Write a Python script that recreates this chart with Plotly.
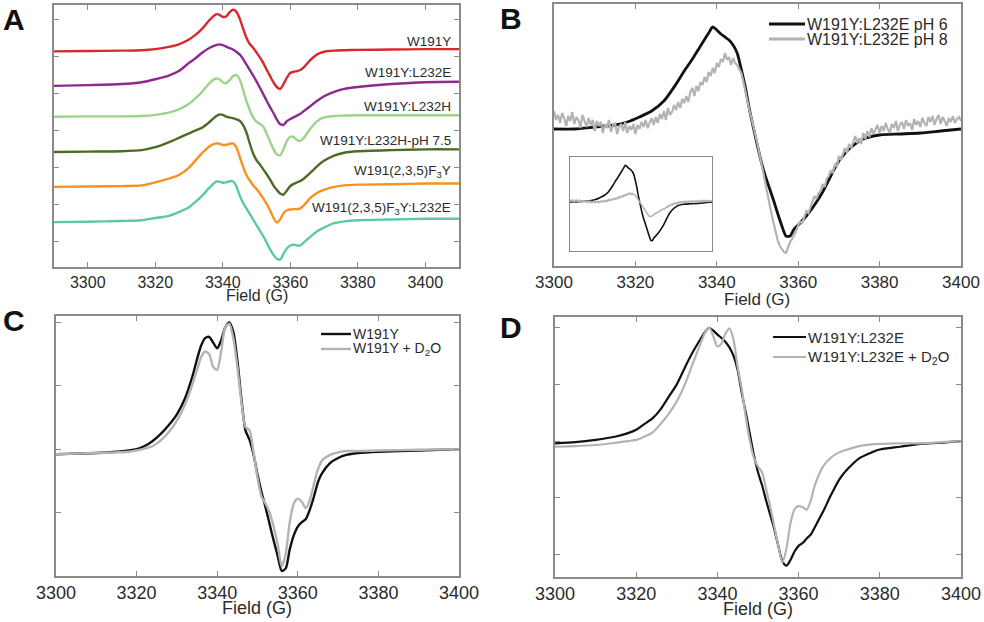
import plotly.graph_objects as go

# ---------------- Panel A data ----------------
field_a = [3290, 3300, 3310, 3316, 3320, 3324, 3327, 3330, 3332, 3334, 3336, 3338, 3339, 3340,
           3341, 3342, 3343, 3344, 3345, 3346, 3347, 3348, 3349, 3350, 3351, 3352, 3353, 3354,
           3355, 3356, 3357, 3358, 3359, 3360, 3361, 3362, 3363, 3364, 3366, 3368, 3370, 3373,
           3376, 3380, 3390, 3400, 3410]
a_w191y = [5.13, 5.14, 5.15, 5.16, 5.19, 5.25, 5.32, 5.45, 5.58, 5.75, 5.97, 6.13, 6.12, 6.06,
           6.07, 6.18, 6.25, 6.2, 6.02, 5.75, 5.5, 5.33, 5.23, 5.1, 4.97, 4.82, 4.64, 4.47,
           4.3, 4.17, 4.12, 4.25, 4.42, 4.55, 4.58, 4.6, 4.63, 4.7, 4.9, 5.05, 5.12, 5.15,
           5.16, 5.17, 5.18, 5.19, 5.19]
a_l232e = [4.2, 4.22, 4.25, 4.3, 4.38, 4.48, 4.6, 4.82, 4.95, 5.1, 5.22, 5.3, 5.32, 5.3,
           5.26, 5.22, 5.18, 5.12, 5.05, 4.93, 4.78, 4.63, 4.48, 4.32, 4.15, 3.98, 3.8, 3.63,
           3.47, 3.3, 3.17, 3.15, 3.25, 3.31, 3.35, 3.4, 3.45, 3.52, 3.66, 3.8, 3.92, 4.04,
           4.12, 4.17, 4.25, 4.3, 4.31]
a_l232h = [3.37, 3.38, 3.38, 3.39, 3.42, 3.48, 3.57, 3.72, 3.87, 4.05, 4.27, 4.4, 4.38, 4.3,
           4.27, 4.35, 4.46, 4.49, 4.38, 4.1, 3.8, 3.55, 3.35, 3.23, 3.18, 3.1, 2.92, 2.7,
           2.5, 2.36, 2.33, 2.5, 2.72, 2.83, 2.82, 2.74, 2.72, 2.8, 3.05, 3.25, 3.35, 3.39,
           3.4, 3.41, 3.41, 3.41, 3.41]
a_l232h_ph75 = [2.42, 2.43, 2.44, 2.47, 2.55, 2.68, 2.8, 2.92, 3.0, 3.08, 3.22, 3.38, 3.43, 3.42,
                3.37, 3.35, 3.33, 3.3, 3.26, 3.15, 2.95, 2.65, 2.38, 2.2, 2.08, 1.95, 1.82, 1.68,
                1.52, 1.4, 1.3, 1.27, 1.38, 1.5, 1.56, 1.6, 1.64, 1.7, 1.86, 2.04, 2.18, 2.32,
                2.4, 2.44, 2.47, 2.49, 2.49]
a_f3y = [1.48, 1.49, 1.5, 1.52, 1.6, 1.7, 1.8, 2.0, 2.2, 2.4, 2.57, 2.65, 2.64, 2.61,
         2.61, 2.64, 2.65, 2.55, 2.3, 2.03, 1.8, 1.65, 1.52, 1.42, 1.3, 1.17, 1.02, 0.85,
         0.65, 0.52, 0.6, 0.77, 0.85, 0.87, 0.88, 0.88, 0.9, 0.98, 1.18, 1.32, 1.4, 1.48,
         1.52, 1.54, 1.55, 1.57, 1.57]
a_f3y_l232e = [0.53, 0.54, 0.56, 0.58, 0.64, 0.7, 0.8, 0.93, 1.08, 1.25, 1.45, 1.62, 1.62, 1.59,
               1.6, 1.63, 1.63, 1.5, 1.25, 1.05, 0.9, 0.75, 0.6, 0.45, 0.3, 0.15, -0.02, -0.2,
               -0.35, -0.46, -0.48, -0.32, -0.18, -0.1, -0.08, -0.1, -0.1, -0.02, 0.14, 0.28, 0.38, 0.5,
               0.55, 0.58, 0.6, 0.62, 0.62]
a_names = ["W191Y", "W191Y:L232E", "W191Y:L232H", "W191Y:L232H-pH 7.5",
           "W191(2,3,5)F<sub>3</sub>Y", "W191(2,3,5)F<sub>3</sub>Y:L232E"]
a_colors = ["#d7282e", "#8c2a8f", "#9bd48a", "#4d6b25", "#f7921e", "#5cc8a8"]
a_label_y = [5.41, 4.57, 3.65, 2.73, 1.89, 0.89]

# ---------------- Panel B data ----------------
field_b = [3300, 3305, 3310, 3315, 3318, 3321, 3324, 3327, 3330, 3332, 3334, 3336, 3338, 3339,
           3340, 3341, 3342, 3343, 3344, 3345, 3346, 3347, 3348, 3349, 3350, 3351, 3352, 3353,
           3354, 3355, 3356, 3357, 3358, 3359, 3360, 3362, 3364, 3366, 3368, 3370, 3373, 3376,
           3380, 3385, 3390, 3395, 3400]
b_ph6 = [0.0, 0.0, 0.02, 0.04, 0.07, 0.12, 0.18, 0.28, 0.45, 0.58, 0.7, 0.83, 0.96, 1.02,
         0.99, 0.95, 0.92, 0.89, 0.84, 0.76, 0.6, 0.42, 0.2, 0.01, -0.17, -0.34, -0.48, -0.6,
         -0.72, -0.85, -0.97, -1.07, -1.07, -1.0, -0.96, -0.87, -0.76, -0.63, -0.47, -0.32, -0.18, -0.1,
         -0.06, -0.05, -0.04, -0.02, 0.0]
# pH 8 spectrum read every 0.5 G from 3300 to 3400 G (noisy trace)
field_b8 = [3300 + 0.5 * i for i in range(201)]
b_ph8 = [0.18, 0.09, 0.14, 0.06, 0.16, 0.11, 0.03, 0.13, 0.08, 0.17,
         0.05, 0.12, 0.09, 0.01, 0.14, 0.07, 0.02, 0.11, 0.04, 0.09,
         -0.02, 0.08, 0.03, 0.07, -0.04, 0.05, 0.01, 0.09, -0.03, 0.04,
         0.06, -0.05, 0.02, 0.05, -0.02, 0.07, -0.04, 0.03, -0.01, 0.05,
         -0.05, 0.04, 0.0, 0.07, 0.02, 0.09, 0.01, 0.06, 0.11, 0.04,
         0.12, 0.06, 0.15, 0.1, 0.18, 0.09, 0.21, 0.14, 0.17, 0.24,
         0.19, 0.27, 0.21, 0.3, 0.26, 0.33, 0.27, 0.37, 0.41, 0.33,
         0.43, 0.38, 0.47, 0.44, 0.52, 0.47, 0.57, 0.53, 0.61, 0.56,
         0.66, 0.62, 0.7, 0.67, 0.76, 0.69, 0.72, 0.64, 0.71, 0.66,
         0.64, 0.6, 0.56, 0.48, 0.37, 0.28, 0.19, 0.11, 0.03, -0.06,
         -0.15, -0.25, -0.36, -0.45, -0.55, -0.66, -0.76, -0.86, -0.95, -1.04,
         -1.12, -1.17, -1.2, -1.23, -1.24, -1.18, -1.13, -1.1, -1.06, -1.02,
         -0.96, -0.93, -0.94, -0.87, -0.82, -0.84, -0.78, -0.73, -0.67, -0.7,
         -0.64, -0.62, -0.55, -0.58, -0.5, -0.47, -0.42, -0.44, -0.35, -0.38,
         -0.27, -0.31, -0.25, -0.19, -0.24, -0.15, -0.19, -0.12, -0.07, -0.14,
         -0.09, -0.15, -0.04, -0.1, -0.02, -0.08, 0.01, -0.05, -0.01, 0.04,
         -0.04, 0.03, -0.02, 0.06, 0.0, -0.04, 0.05, 0.01, 0.08, -0.02,
         0.04, 0.07, 0.0, 0.09, 0.03, 0.06, -0.01, 0.1, 0.04, 0.08,
         0.02, 0.11, 0.06, 0.03, 0.12, 0.07, 0.13, 0.04, 0.1, 0.14,
         0.05, 0.12, 0.08, 0.03, 0.11, 0.07, 0.13, 0.06, 0.1, 0.12,
         0.08]
ph8_inset_scale = 0.33   # un-normalised pH 8 intensity relative to pH 6 (inset)
b_names = ["W191Y:L232E pH 6", "W191Y:L232E pH 8"]

# ---------------- Panel C data ----------------
field_c = [3300, 3305, 3310, 3315, 3318, 3320, 3322, 3324, 3326, 3328, 3330, 3332, 3334, 3335,
           3336, 3337, 3338, 3339, 3340, 3341, 3342, 3343, 3344, 3345, 3346, 3347, 3348, 3349,
           3350, 3351, 3352, 3353, 3354, 3355, 3356, 3357, 3358, 3359, 3360, 3361, 3362, 3363,
           3364, 3365, 3366, 3368, 3370, 3372, 3375, 3380, 3390, 3400]
c_h2o = [-0.08, -0.07, -0.06, -0.04, -0.02, 0.0, 0.05, 0.13, 0.24, 0.38, 0.55, 0.8, 1.18, 1.42,
         1.63, 1.75, 1.77, 1.68, 1.59, 1.72, 1.92, 2.0, 1.85, 1.4, 0.8, 0.3, 0.15, -0.08,
         -0.4, -0.68, -0.92, -1.18, -1.44, -1.68, -1.92, -1.88, -1.58, -1.36, -1.22, -1.15, -1.1, -0.95,
         -0.75, -0.52, -0.38, -0.22, -0.14, -0.09, -0.06, -0.04, -0.02, 0.0]
c_d2o = [-0.08, -0.07, -0.06, -0.05, -0.04, -0.02, 0.01, 0.05, 0.14, 0.27, 0.45, 0.7, 1.05, 1.25,
         1.45, 1.54, 1.5, 1.3, 1.25, 1.55, 1.92, 1.98, 1.75, 1.3, 0.75, 0.35, 0.3, -0.04,
         -0.45, -0.75, -0.86, -1.0, -1.22, -1.5, -1.85, -1.65, -1.15, -0.86, -0.78, -0.83, -0.93, -0.8,
         -0.55, -0.32, -0.18, -0.09, -0.05, -0.03, -0.03, -0.02, -0.01, 0.0]
c_names = ["W191Y", "W191Y + D<sub>2</sub>O"]

# ---------------- Panel D data ----------------
field_d = [3300, 3305, 3310, 3315, 3318, 3320, 3322, 3324, 3326, 3328, 3330, 3332, 3334, 3336,
           3337, 3338, 3339, 3340, 3341, 3342, 3343, 3344, 3345, 3346, 3347, 3348, 3349, 3350,
           3351, 3352, 3353, 3354, 3355, 3356, 3357, 3358, 3359, 3360, 3361, 3362, 3363, 3364,
           3366, 3368, 3370, 3372, 3375, 3378, 3380, 3385, 3390, 3395, 3400]
d_h2o = [-0.04, -0.02, 0.02, 0.08, 0.14, 0.2, 0.3, 0.4, 0.56, 0.78, 1.0, 1.3, 1.58, 1.82,
         1.93, 2.0, 1.95, 1.88, 1.82, 1.75, 1.65, 1.5, 1.25, 0.85, 0.5, 0.12, -0.25, -0.55,
         -0.78, -1.05, -1.3, -1.55, -1.85, -2.12, -2.2, -2.1, -1.95, -1.85, -1.8, -1.72, -1.65, -1.52,
         -1.25, -0.95, -0.68, -0.5, -0.3, -0.2, -0.15, -0.1, -0.05, -0.03, 0.0]
d_d2o = [-0.1, -0.09, -0.07, -0.03, 0.0, 0.02, 0.08, 0.15, 0.3, 0.48, 0.7, 1.0, 1.38, 1.75,
         1.92, 2.0, 1.85, 1.67, 1.72, 1.9, 1.99, 1.78, 1.3, 0.92, 0.42, 0.0, -0.3, -0.45,
         -0.55, -0.85, -1.15, -1.5, -1.85, -2.15, -1.9, -1.45, -1.2, -1.15, -1.17, -1.21, -1.05, -0.78,
         -0.45, -0.29, -0.2, -0.15, -0.09, -0.06, -0.05, -0.04, -0.04, -0.02, 0.0]
d_names = ["W191Y:L232E", "W191Y:L232E + D<sub>2</sub>O"]

field_ticks = [3300, 3320, 3340, 3360, 3380, 3400]
BLACK = "#111111"
GRAY = "#b3b3b3"
FONT = "Liberation Sans, Arial, Helvetica, sans-serif"
FRAME = "#8a8a8a"
TXT = "#2b2b2b"

W, H = 984, 622


def px(x):
    return x / W


def py(y):
    return 1 - y / H


fig = go.Figure()
SMOOTH = dict(shape="spline", smoothing=0.7)

# Panel A
for vals, name, col in zip([a_w191y, a_l232e, a_l232h, a_l232h_ph75, a_f3y, a_f3y_l232e],
                           a_names, a_colors):
    fig.add_trace(go.Scatter(x=field_a, y=vals, mode="lines", name=name,
                             line=dict(color=col, width=2.4, **SMOOTH), xaxis="x", yaxis="y"))

# Panel B
fig.add_trace(go.Scatter(x=field_b, y=b_ph6, mode="lines", name=b_names[0],
                         line=dict(color=BLACK, width=2.8, **SMOOTH), xaxis="x2", yaxis="y2"))
fig.add_trace(go.Scatter(x=field_b8, y=b_ph8, mode="lines", name=b_names[1],
                         line=dict(color=GRAY, width=2.2), xaxis="x2", yaxis="y2"))
# Inset
fig.add_trace(go.Scatter(x=field_b, y=b_ph6, mode="lines", showlegend=False,
                         line=dict(color=BLACK, width=1.6, **SMOOTH), xaxis="x3", yaxis="y3"))
fig.add_trace(go.Scatter(x=field_b8, y=[v * ph8_inset_scale for v in b_ph8], mode="lines",
                         showlegend=False, line=dict(color=GRAY, width=1.5), xaxis="x3", yaxis="y3"))

# Panel C
fig.add_trace(go.Scatter(x=field_c, y=c_h2o, mode="lines", name=c_names[0],
                         line=dict(color=BLACK, width=2.4, **SMOOTH), xaxis="x4", yaxis="y4"))
fig.add_trace(go.Scatter(x=field_c, y=c_d2o, mode="lines", name=c_names[1],
                         line=dict(color=GRAY, width=2.4, **SMOOTH), xaxis="x4", yaxis="y4"))

# Panel D
fig.add_trace(go.Scatter(x=field_d, y=d_h2o, mode="lines", name=d_names[0],
                         line=dict(color=BLACK, width=2.2, **SMOOTH), xaxis="x5", yaxis="y5"))
fig.add_trace(go.Scatter(x=field_d, y=d_d2o, mode="lines", name=d_names[1],
                         line=dict(color=GRAY, width=2.2, **SMOOTH), xaxis="x5", yaxis="y5"))


def xax(domain, rng, anchor, size, show=True):
    return dict(domain=domain, range=rng, anchor=anchor, showline=True, linecolor=FRAME,
                linewidth=1.5, mirror="allticks" if show else True,
                ticks="inside" if show else "", ticklen=5, tickcolor=FRAME,
                tickvals=field_ticks if show else [], showticklabels=show,
                tickfont=dict(family=FONT, size=size, color=TXT), automargin=False,
                showgrid=False, zeroline=False, fixedrange=True)


def yax(domain, rng, anchor, tickvals):
    return dict(domain=domain, range=rng, anchor=anchor, showline=True, linecolor=FRAME,
                linewidth=1.5, mirror="allticks" if tickvals else True,
                ticks="inside" if tickvals else "", ticklen=5, tickcolor=FRAME,
                tickvals=tickvals, showticklabels=False, automargin=False,
                showgrid=False, zeroline=False, fixedrange=True)


layout = dict(
    width=W, height=H, margin=dict(l=0, r=0, t=0, b=0, pad=0, autoexpand=False),
    paper_bgcolor="white", plot_bgcolor="white", showlegend=False,
    xaxis=xax([px(54), px(459)], [3290, 3410], "y", 16),
    yaxis=yax([py(267), py(5)], [-0.68, 6.38], "x", [0, 1, 2, 3, 4, 5, 6]),
    xaxis2=xax([px(554), px(961)], [3300, 3400], "y2", 17),
    yaxis2=yax([py(266), py(4)], [-1.37, 1.25], "x2", []),
    xaxis3=xax([px(570), px(712)], [3300, 3400], "y3", 10, show=False),
    yaxis3=yax([py(251), py(157)], [-1.36, 1.25], "x3", []),
    xaxis4=xax([px(56), px(459)], [3300, 3400], "y4", 18),
    yaxis4=yax([py(576), py(316)], [-2.0, 2.1], "x4", [-2, -1, 0, 1, 2]),
    xaxis5=xax([px(555), px(961)], [3300, 3400], "y5", 18),
    yaxis5=yax([py(577), py(317)], [-2.4, 2.19], "x5", [-2, -1, 0, 1, 2]),
)
layout["xaxis3"]["linewidth"] = 1
layout["yaxis3"]["linewidth"] = 1
fig.update_layout(**layout)

ann = []
shapes = []
# panel letters
for letter, x, y in [("A", 14, 19), ("B", 511, 18), ("C", 14, 321), ("D", 511, 328)]:
    ann.append(dict(text="<b>%s</b>" % letter, x=px(x), y=py(y), xref="paper", yref="paper",
                    showarrow=False, xanchor="center", yanchor="middle", borderpad=0,
                    font=dict(family=FONT, size=30, color="#111111")))
# axis titles
for x, y, size in [(257, 295, 16), (757, 299, 17), (257, 608, 18), (758, 609, 18)]:
    ann.append(dict(text="Field (G)", x=px(x), y=py(y), xref="paper", yref="paper",
                    showarrow=False, xanchor="center", yanchor="middle", borderpad=0,
                    font=dict(family=FONT, size=size, color=TXT)))
# panel A trace labels
for name, yv in zip(a_names, a_label_y):
    ann.append(dict(text=name, x=3407.8, y=yv, xref="x", yref="y", showarrow=False,
                    xanchor="right", yanchor="middle", borderpad=0,
                    font=dict(family=FONT, size=13.5, color=TXT)))


def legend(names, colors, x0, x1, ys, size, width):
    for name, col, yy in zip(names, colors, ys):
        shapes.append(dict(type="line", xref="paper", yref="paper", x0=px(x0), x1=px(x1),
                           y0=py(yy), y1=py(yy), line=dict(color=col, width=width)))
        ann.append(dict(text=name, x=px(x1 + 1), y=py(yy), xref="paper", yref="paper",
                        showarrow=False, xanchor="left", yanchor="middle", borderpad=0,
                        font=dict(family=FONT, size=size, color=TXT)))


legend(b_names, [BLACK, GRAY], 769, 805, [24, 39], 16, 2.8)
legend(c_names, [BLACK, GRAY], 321, 351, [334, 349], 14, 2.4)
legend(d_names, [BLACK, GRAY], 773, 806, [337, 357], 15, 2.2)

fig.update_layout(annotations=ann, shapes=shapes)
# remove the default 8px page margin so the 984x622 figure fills the window exactly
fig.write_html("out.html", config={"displayModeBar": False},
               post_script="document.body.style.margin='0';document.body.style.overflow='hidden';")
